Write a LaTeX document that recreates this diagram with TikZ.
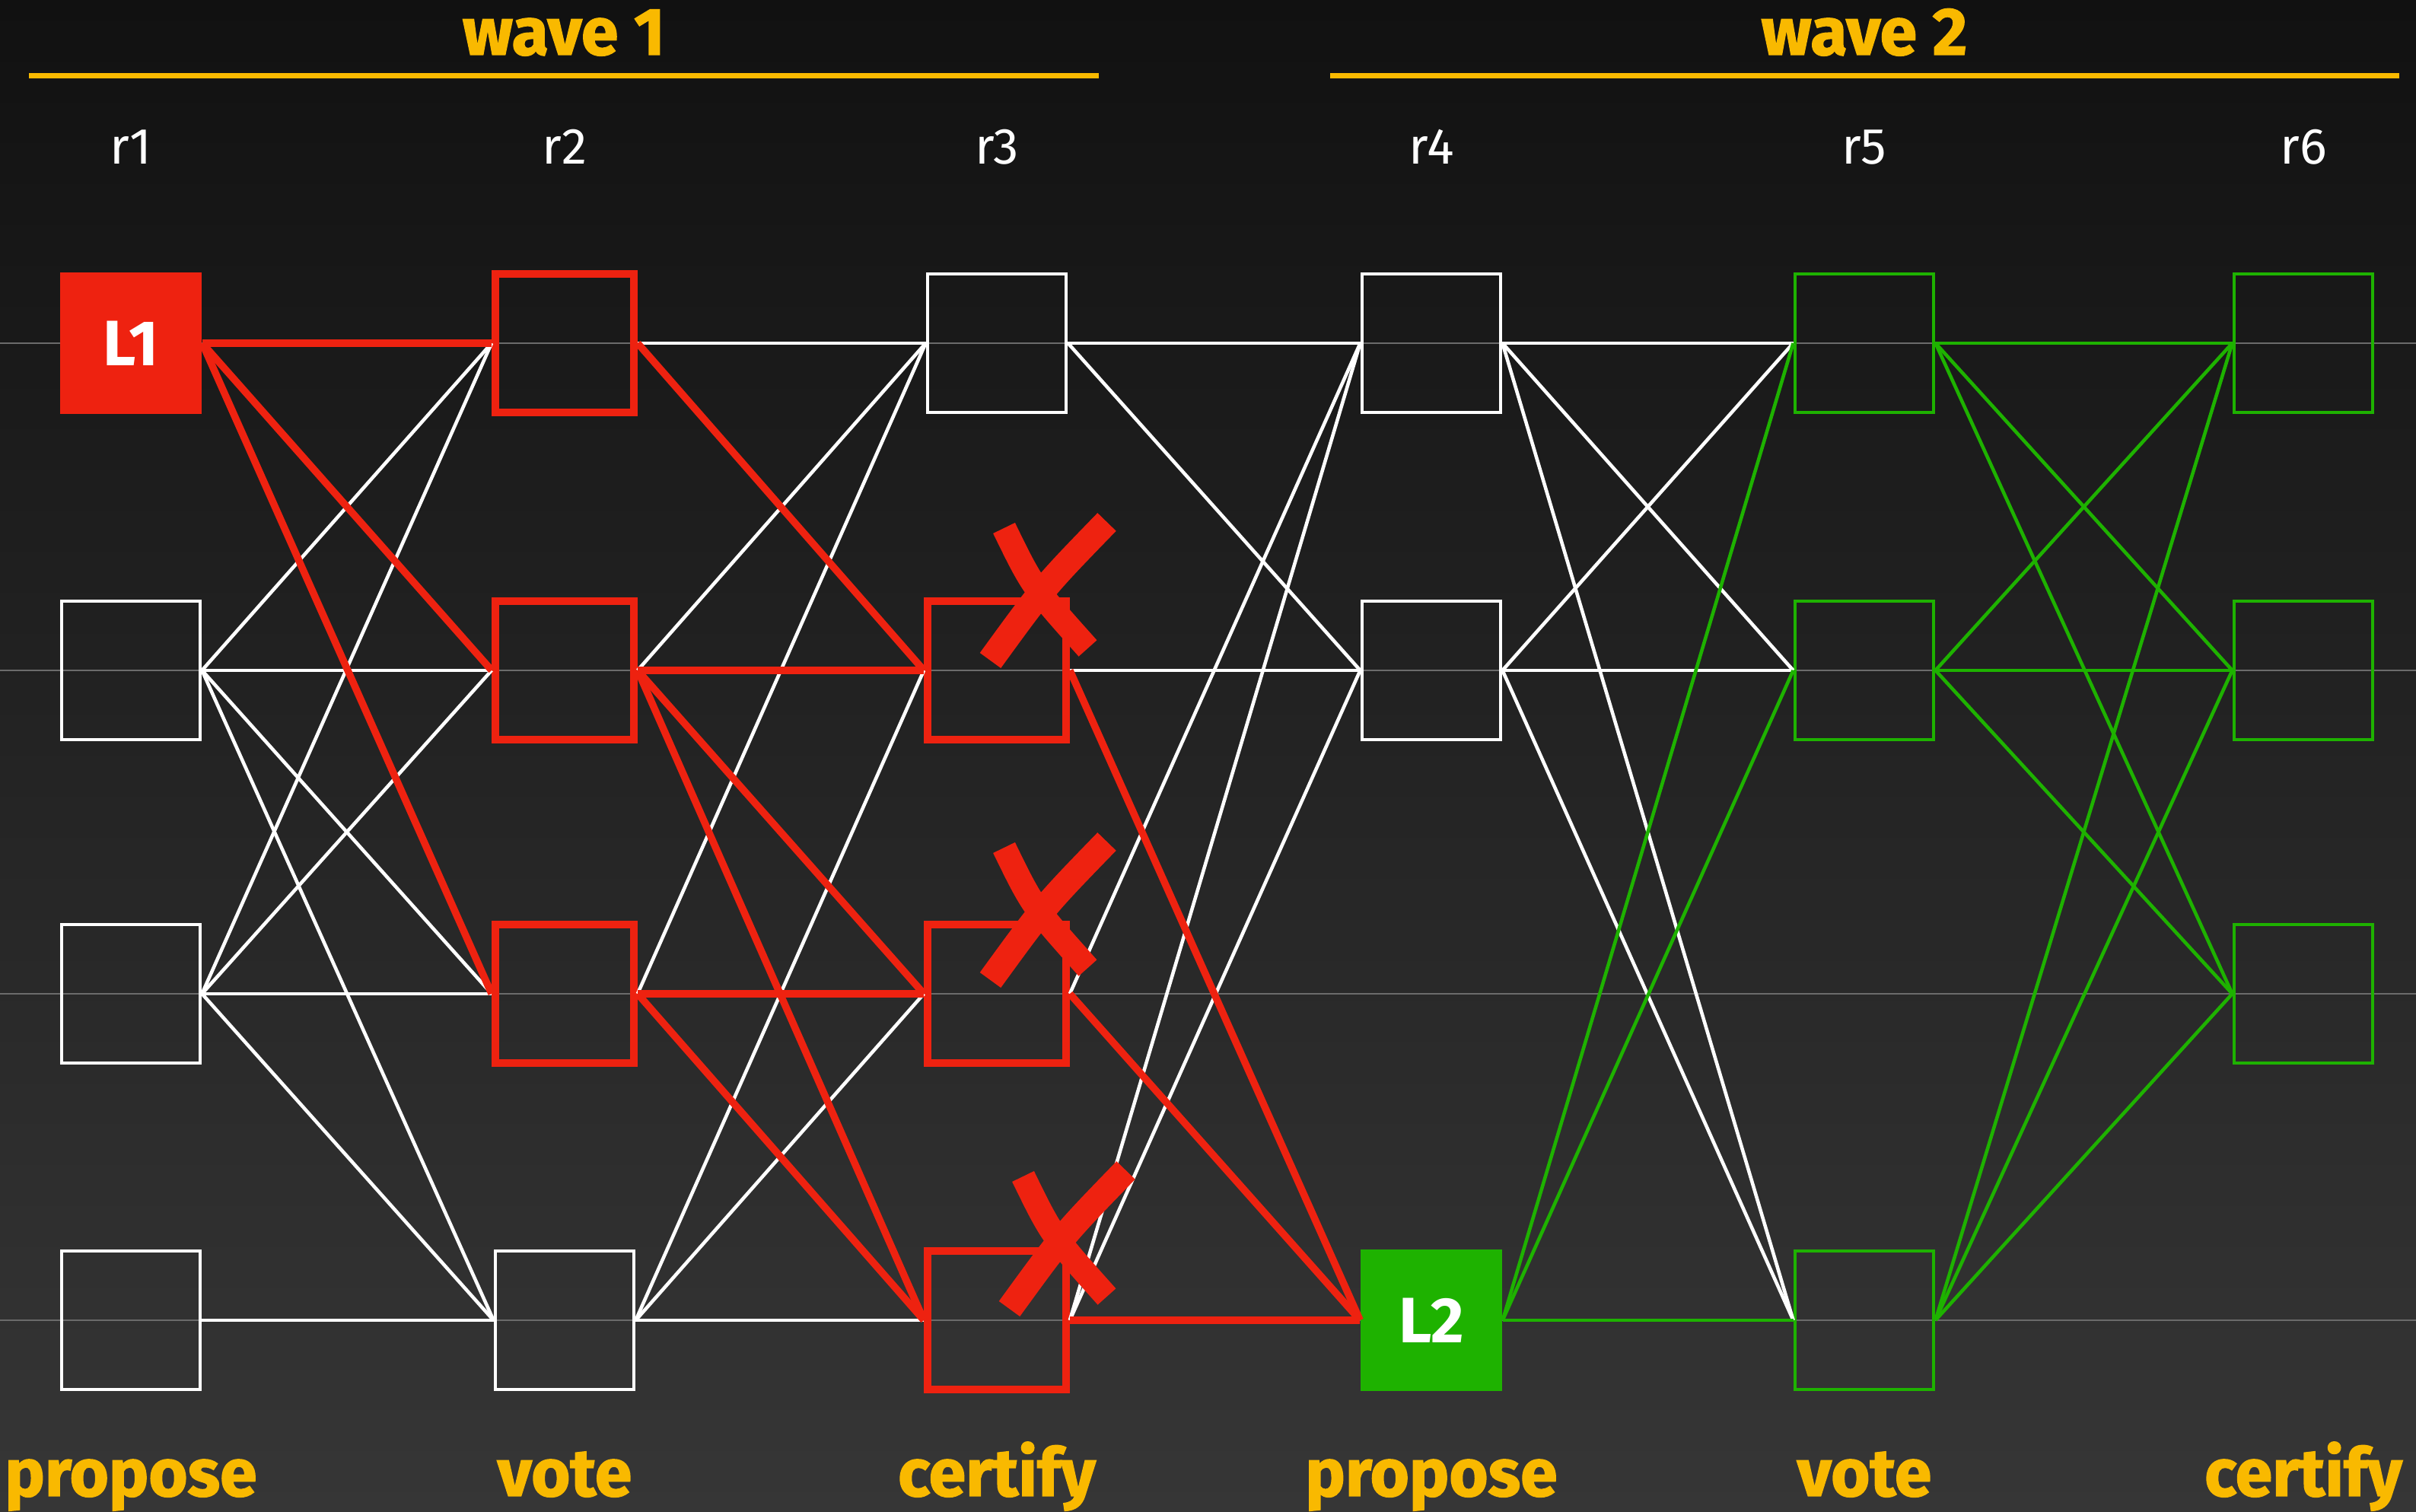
\documentclass[tikz,border=0pt]{standalone}
\usepackage{fontspec}
\setmainfont{Fira Sans}
\newfontfamily\heavyfont{Fira Sans}[BoldFeatures={FakeBold=1.6}]
\usepackage{xcolor}
\usepackage{tikz}
\usetikzlibrary{positioning}

\definecolor{bgtop}{HTML}{111111}
\definecolor{bgbot}{HTML}{363636}
\definecolor{leadred}{HTML}{EE2210}
\definecolor{leadgreen}{HTML}{1EB200}
\definecolor{labelgold}{HTML}{F9B900}
\definecolor{rowgray}{HTML}{6B6B6B}

\newcommand{\brushcross}[1]{%
  \begin{scope}[shift={#1}]
    \draw[leadred, line width=0.32cm] (-0.575,0.82) .. controls (-0.2,0.05) .. (0.525,-0.76);
    \draw[leadred, line width=0.34cm] (0.775,0.90) .. controls (-0.05,0.05) .. (-0.755,-0.92);
  \end{scope}}

\begin{document}
\begin{tikzpicture}[
    wbox/.style={rectangle, draw=white, line width=1.4pt,
                 minimum size=1.82cm, inner sep=0pt},
    rbox/.style={wbox, draw=leadred, line width=2.8pt},
    gbox/.style={wbox, draw=leadgreen},
    lead/.style={rectangle, minimum size=1.86cm, inner sep=0pt,
                 text=white, font=\fontsize{24}{28}\selectfont\bfseries},
    rlabel/.style={text=white, anchor=base, font=\fontsize{19}{22}\selectfont},
    phase/.style={text=labelgold, anchor=base,
                  font=\fontsize{25}{30}\selectfont\heavyfont\bfseries},
    wline/.style={white, line width=1.3pt},
    rline/.style={leadred, line width=2.7pt},
    gline/.style={leadgreen, line width=1.3pt}
  ]
  \shade[top color=bgtop, bottom color=bgbot] (0,0) rectangle (31.75,19.87);
  \useasboundingbox (0,0) rectangle (31.75,19.87);

  \foreach \y in {15.36,11.06,6.81,2.52}
    \draw[rowgray, line width=0.7pt] (0,\y) -- (31.75,\y);

  \node[phase] (w1) at (7.41,19.15) {wave 1};
  \node[phase] (w2) at (24.50,19.15) {wave 2};
  \draw[labelgold, line width=2pt] (0.38,18.87) -- (14.44,18.87);
  \draw[labelgold, line width=2pt] (17.48,18.87) -- (31.53,18.87);

  \foreach \i/\x in {1/1.72,2/7.42,3/13.10,4/18.81,5/24.50,6/30.27}
    \node[rlabel] (r\i) at (\x,17.71) {r\i};

  \node[phase] (p1) at (1.72,0.21)  {propose};
  \node[phase] (p2) at (7.42,0.21)  {vote};
  \node[phase] (p3) at (13.10,0.21) {certify};
  \node[phase] (p4) at (18.81,0.21) {propose};
  \node[phase] (p5) at (24.50,0.21) {vote};
  \node[phase] (p6) at (30.27,0.21) {certify};

  \node[lead, fill=leadred] (b11) at (1.72,15.36) {L1};
  \node[wbox] (b12) at (1.72,11.06) {};
  \node[wbox] (b13) at (1.72,6.81)  {};
  \node[wbox] (b14) at (1.72,2.52)  {};

  \node[rbox] (b21) at (7.42,15.36) {};
  \node[rbox] (b22) at (7.42,11.06) {};
  \node[rbox] (b23) at (7.42,6.81)  {};
  \node[wbox] (b24) at (7.42,2.52)  {};

  \node[wbox] (b31) at (13.10,15.36) {};
  \node[rbox] (b32) at (13.10,11.06) {};
  \node[rbox] (b33) at (13.10,6.81)  {};
  \node[rbox] (b34) at (13.10,2.52)  {};

  \node[wbox] (b41) at (18.81,15.36) {};
  \node[wbox] (b42) at (18.81,11.06) {};
  \node[lead, fill=leadgreen] (b44) at (18.81,2.52) {L2};

  \node[gbox] (b51) at (24.50,15.36) {};
  \node[gbox] (b52) at (24.50,11.06) {};
  \node[gbox] (b54) at (24.50,2.52)  {};

  \node[gbox] (b61) at (30.27,15.36) {};
  \node[gbox] (b62) at (30.27,11.06) {};
  \node[gbox] (b63) at (30.27,6.81)  {};

  \foreach \s/\t in {12/21,12/22,12/23,12/24,13/21,13/22,13/23,13/24,14/24,
                     21/31,22/31,23/31,24/32,24/33,24/34,
                     31/41,31/42,32/42,33/41,34/41,34/42,
                     41/51,41/52,41/54,42/51,42/52,42/54}
    \draw[wline] (b\s.east) -- (b\t.west);

  \foreach \s/\t in {44/51,44/52,44/54,51/61,51/62,51/63,
                     52/61,52/62,52/63,54/61,54/62,54/63}
    \draw[gline] (b\s.east) -- (b\t.west);

  \foreach \s/\t in {11/21,11/22,11/23,21/32,22/32,22/33,22/34,
                     23/33,23/34,32/44,33/44,34/44}
    \draw[rline] (b\s.east) -- (b\t.west);

  \brushcross{(13.77,12.11)}
  \brushcross{(13.77,7.91)}
  \brushcross{(14.02,3.59)}
\end{tikzpicture}
\end{document}
